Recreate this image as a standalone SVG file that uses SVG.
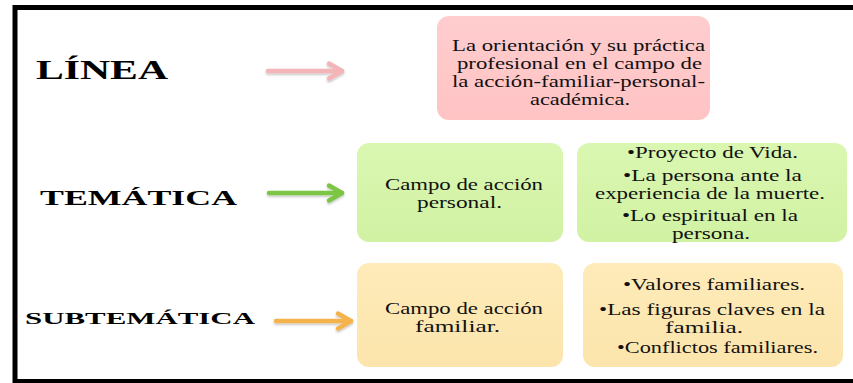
<svg xmlns="http://www.w3.org/2000/svg" width="853" height="383" viewBox="0 0 853 383">
<defs>
<style>
.lbl{font-family:"Liberation Serif","Times New Roman",serif;font-weight:bold;fill:#000}
.t{font-family:"Liberation Serif","Times New Roman",serif;font-size:16px;fill:#111}
.pink{fill:url(#gPink)}
.green{fill:url(#gGreen)}
.orange{fill:url(#gOrange)}
.arr{fill:none;stroke-width:4.5;stroke-linecap:round;stroke-linejoin:round;filter:url(#sh)}
</style>
<linearGradient id="gPink" x1="0" y1="0" x2="0" y2="1"><stop offset="0" stop-color="#FFCDCE"/><stop offset="1" stop-color="#FFC3C4"/></linearGradient>
<linearGradient id="gGreen" x1="0" y1="0" x2="0" y2="1"><stop offset="0" stop-color="#DAF7B1"/><stop offset="1" stop-color="#D1F2A3"/></linearGradient>
<linearGradient id="gOrange" x1="0" y1="0" x2="0" y2="1"><stop offset="0" stop-color="#FEEBB9"/><stop offset="1" stop-color="#FCE5AC"/></linearGradient>
<filter id="sh" x="-20%" y="-50%" width="140%" height="200%"><feDropShadow dx="0" dy="1.5" stdDeviation="1.2" flood-color="#000" flood-opacity="0.25"/></filter>
</defs>
<rect width="853" height="383" fill="#fff"/>
<g id="frame"><path d="M 15 383 V 7.5 H 853 M 15 381.5 H 853" fill="none" stroke="#000" stroke-width="5"/></g>

<g id="label-linea"><text class="lbl" x="36" y="79" font-size="27" textLength="132" lengthAdjust="spacingAndGlyphs">LÍNEA</text></g>
<g id="label-tematica"><text class="lbl" x="40" y="205" font-size="21" textLength="197" lengthAdjust="spacingAndGlyphs">TEMÁTICA</text></g>
<g id="label-subtematica"><text class="lbl" x="25" y="324" font-size="17.5" textLength="230" lengthAdjust="spacingAndGlyphs">SUBTEMÁTICA</text></g>

<g id="connectors">
<g stroke="#F3B5B7" class="arr"><path d="M 268 71 H 342"/><path d="M 329 63.5 L 342 71 L 329 78.5"/></g>
<g stroke="#7DC544" class="arr"><path d="M 269 193 H 342"/><path d="M 329 185.5 L 342 193 L 329 200.5"/></g>
<g stroke="#F5B44C" class="arr"><path d="M 276 321 H 351"/><path d="M 338 313.5 L 351 321 L 338 328.5"/></g>
</g>

<g id="node-linea">
<rect class="pink" x="437" y="16" width="273" height="104" rx="12"/>
<text class="t" x="452" y="51" textLength="253" lengthAdjust="spacingAndGlyphs">La orientación y su práctica</text>
<text class="t" x="457" y="69" textLength="245" lengthAdjust="spacingAndGlyphs">profesional en el campo de</text>
<text class="t" x="452" y="87" textLength="253" lengthAdjust="spacingAndGlyphs">la acción-familiar-personal-</text>
<text class="t" x="530" y="105" textLength="100" lengthAdjust="spacingAndGlyphs">académica.</text>
</g>

<g id="node-personal">
<rect class="green" x="357" y="143" width="206" height="99" rx="12"/>
<text class="t" x="385" y="190" textLength="158" lengthAdjust="spacingAndGlyphs">Campo de acción</text>
<text class="t" x="417" y="208" textLength="85" lengthAdjust="spacingAndGlyphs">personal.</text>
</g>

<g id="node-tematica-items">
<rect class="green" x="577" y="143" width="270" height="99" rx="12"/>
<text class="t" x="627" y="158" textLength="171" lengthAdjust="spacingAndGlyphs">•Proyecto de Vida.</text>
<text class="t" x="623" y="181" textLength="179" lengthAdjust="spacingAndGlyphs">•La persona ante la</text>
<text class="t" x="595" y="199" textLength="230" lengthAdjust="spacingAndGlyphs">experiencia de la muerte.</text>
<text class="t" x="622" y="221" textLength="176" lengthAdjust="spacingAndGlyphs">•Lo espiritual en la</text>
<text class="t" x="672" y="239" textLength="78" lengthAdjust="spacingAndGlyphs">persona.</text>
</g>

<g id="node-familiar">
<rect class="orange" x="357" y="263" width="206" height="104" rx="12"/>
<text class="t" x="385" y="314" textLength="158" lengthAdjust="spacingAndGlyphs">Campo de acción</text>
<text class="t" x="415" y="332" textLength="85" lengthAdjust="spacingAndGlyphs">familiar.</text>
</g>

<g id="node-subtematica-items">
<rect class="orange" x="583" y="263" width="260" height="104" rx="12"/>
<text class="t" x="623" y="290" textLength="182" lengthAdjust="spacingAndGlyphs">•Valores familiares.</text>
<text class="t" x="599" y="315" textLength="226" lengthAdjust="spacingAndGlyphs">•Las figuras claves en la</text>
<text class="t" x="665" y="333" textLength="78" lengthAdjust="spacingAndGlyphs">familia.</text>
<text class="t" x="617" y="353" textLength="201" lengthAdjust="spacingAndGlyphs">•Conflictos familiares.</text>
</g>
</svg>
